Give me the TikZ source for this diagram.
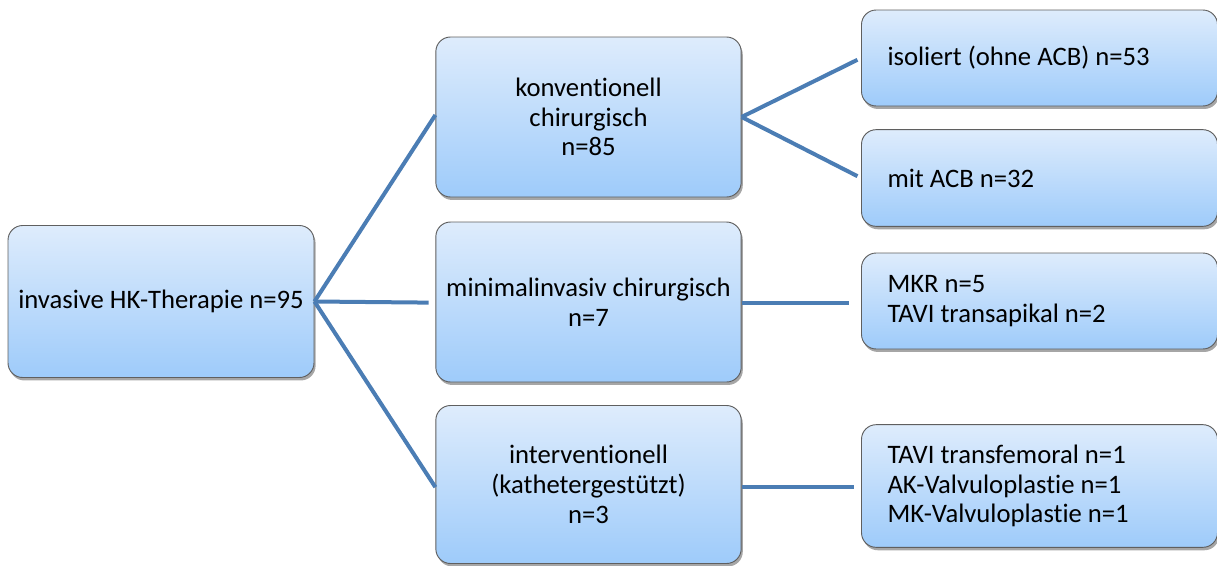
\documentclass[tikz,border=0pt]{standalone}
\usepackage{fontspec}
\setmainfont{Carlito}[Ligatures=NoCommon]
\usetikzlibrary{shadows}
\definecolor{boxtop}{RGB}{222,236,252}
\definecolor{boxbot}{RGB}{158,203,250}
\definecolor{boxline}{RGB}{95,95,95}
\definecolor{link}{RGB}{75,125,180}
\tikzset{
  box/.style={draw=boxline, line width=0.7pt, rounded corners=11pt,
    top color=boxtop, bottom color=boxbot,
    drop shadow={shadow xshift=1.2pt, shadow yshift=-2.2pt, opacity=0.35, fill=black},
    font=\fontsize{20}{22.3}\selectfont, text=black},
  midbox/.style={box, align=center, minimum width=229pt, inner sep=0pt},
  leafbox/.style={box, align=flush left, text width=228pt, inner xsep=19.5pt, inner ysep=0pt,
    minimum width=267pt},
  link/.style={draw=link, line width=3pt}
}
\begin{document}
\begin{tikzpicture}[x=0.75pt,y=-0.75pt]
\useasboundingbox (0,0) rectangle (1217,565);

% tree of boxes
\node[box, align=center, minimum width=229.5pt, minimum height=114pt, inner sep=0pt]
  (root) at (161,301.5) {invasive HK-Therapie n=95};

\node[midbox, minimum height=120pt] (konv) at (588.5,117)
  {konventionell\\chirurgisch\\n=85};
\node[midbox, minimum height=120pt] (mini) at (588.5,302)
  {minimalinvasiv chirurgisch\\n=7};
\node[midbox, minimum height=118.5pt] (inter) at (588.5,484.5)
  {interventionell\\(kathetergestützt)\\n=3};

\node[leafbox, minimum height=72pt] (iso) at (1039.5,58)
  {isoliert (ohne ACB) n=53};
\node[leafbox, minimum height=72.5pt] (acb) at (1039.5,178)
  {mit ACB n=32};
\node[leafbox, minimum height=72pt] (mkr) at (1039.5,301)
  {MKR n=5\\TAVI transapikal n=2};
\node[leafbox, minimum height=92pt] (tavi) at (1039.5,486)
  {TAVI transfemoral n=1\\AK-Valvuloplastie n=1\\MK-Valvuloplastie n=1};

% connectors
\draw[link] (root.east) -- ([yshift=1.5pt]konv.west);
\draw[link, shorten >=5pt] (root.east) -- ([yshift=-0.5pt]mini.west);
\draw[link] (root.east) -- ([yshift=-2pt]inter.west);
\draw[link, shorten >=3pt] (konv.east) -- (iso.west);
\draw[link, shorten >=3pt] (konv.east) -- (acb.west);
\draw[link, shorten >=9pt] ([yshift=-0.5pt]mini.east) -- ([yshift=-0.5pt]mini.east -| mkr.west);
\draw[link, shorten >=5pt] ([yshift=-2pt]inter.east) -- ([yshift=-2pt]inter.east -| tavi.west);
\end{tikzpicture}
\end{document}
